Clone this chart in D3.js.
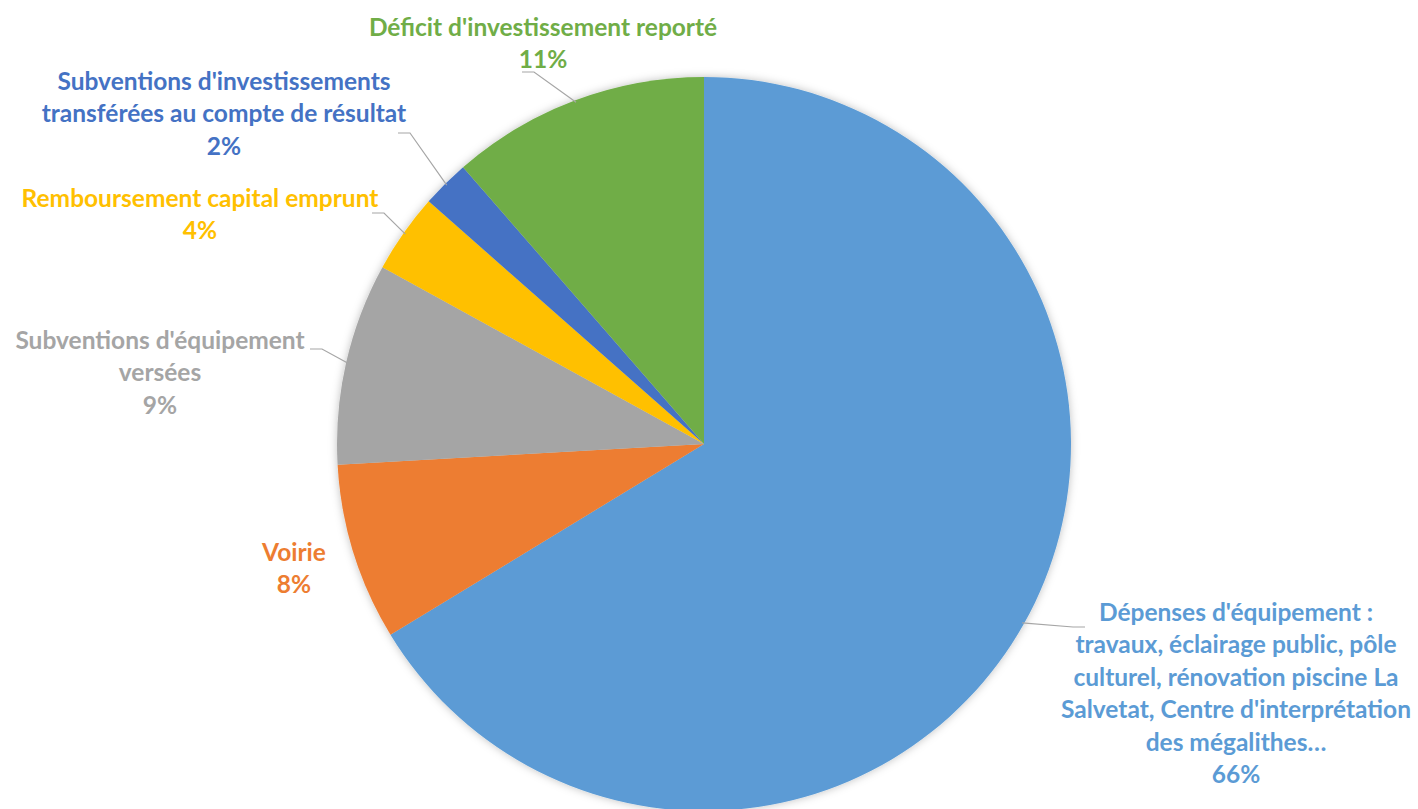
<!DOCTYPE html>
<html>
<head>
<meta charset="utf-8">
<script src="https://cdn.jsdelivr.net/npm/d3@7"></script>
<style>
  body { margin: 0; background: #fff; }
  text { font-family: Lato, "Open Sans", sans-serif; font-weight: bold; }
</style>
</head>
<body>
<div id="chart"></div>
<script>
const categories = [
  "Dépenses d'équipement : travaux, éclairage public, pôle culturel, rénovation piscine La Salvetat, Centre d'interprétation des mégalithes…",
  "Voirie",
  "Subventions d'équipement versées",
  "Remboursement capital emprunt",
  "Subventions d'investissements transférées au compte de résultat",
  "Déficit d'investissement reporté"
];
const values = [66.3, 7.8, 8.9, 3.5, 2.1, 11.4];
const percentLabels = ["66%", "8%", "9%", "4%", "2%", "11%"];
const labelLines = [
  ["Dépenses d'équipement :", "travaux, éclairage public, pôle", "culturel, rénovation piscine La", "Salvetat, Centre d'interprétation", "des mégalithes…"],
  ["Voirie"],
  ["Subventions d'équipement", "versées"],
  ["Remboursement capital emprunt"],
  ["Subventions d'investissements", "transférées au compte de résultat"],
  ["Déficit d'investissement reporté"]
];
const colors = ["#5B9BD5", "#ED7D31", "#A5A5A5", "#FFC000", "#4472C4", "#70AD47"];

// label layout: centre x, first baseline y, leader start
const layout = [
  { x: 1236, y: 621, lead: [1085, 627] },
  { x: 294, y: 561, lead: null },
  { x: 160, y: 349, lead: [310, 349] },
  { x: 200, y: 207, lead: [372, 213] },
  { x: 224, y: 90, lead: [398, 133] },
  { x: 543, y: 36, lead: [522, 72] }
];

const width = 1418, height = 809;
const cx = 704, cy = 444, radius = 367;
const lineH = 32.4;

const svg = d3.select("#chart").append("svg")
  .attr("width", width).attr("height", height);

const defs = svg.append("defs");
const f = defs.append("filter").attr("id", "shadow")
  .attr("x", "-10%").attr("y", "-10%").attr("width", "120%").attr("height", "120%");
f.append("feDropShadow").attr("dx", 0).attr("dy", 0).attr("stdDeviation", 4)
  .attr("flood-color", "#000").attr("flood-opacity", 0.25);

const data = categories.map((c, i) => ({ name: c, value: values[i], i }));

const pie = d3.pie().sort(null).value(d => d.value);
const arcs = pie(data);

const arc = d3.arc().innerRadius(0).outerRadius(radius);
const edge = d3.arc().innerRadius(radius - 2).outerRadius(radius - 2);

const g = svg.append("g").attr("transform", `translate(${cx},${cy})`);

g.append("g").attr("filter", "url(#shadow)")
  .selectAll("path")
  .data(arcs)
  .join("path")
  .attr("d", arc)
  .attr("fill", d => colors[d.data.i]);

// leader lines
arcs.forEach(a => {
  const L = layout[a.data.i];
  if (!L.lead) return;
  const c = edge.centroid(a);
  const px = c[0] + cx, py = c[1] + cy;
  const [lx, ly] = L.lead;
  const dir = px > lx ? 1 : -1;
  svg.append("polyline")
    .attr("points", [[lx, ly], [lx + dir * 12, ly], [px, py]].map(p => p.join(",")).join(" "))
    .attr("fill", "none")
    .attr("stroke", "#A6A6A6")
    .attr("stroke-width", 1.2);
});

// labels
data.forEach(d => {
  const L = layout[d.i];
  const t = svg.append("text")
    .attr("text-anchor", "middle")
    .attr("fill", colors[d.i])
    .attr("font-size", 24.5);
  labelLines[d.i].concat([percentLabels[d.i]]).forEach((s, k) => {
    t.append("tspan").attr("x", L.x).attr("y", L.y + k * lineH).text(s);
  });
});
</script>
</body>
</html>
